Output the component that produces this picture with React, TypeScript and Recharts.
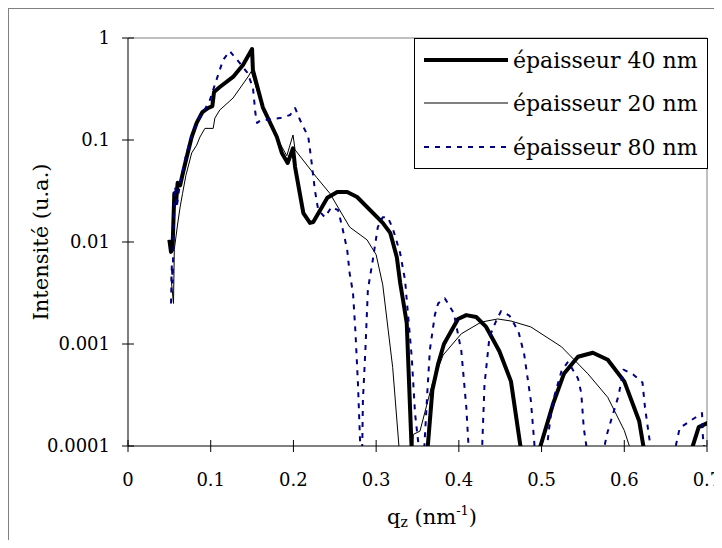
import React from "react";
import {Legend, Line, LineChart, ReferenceLine, XAxis, YAxis} from "recharts";

// q_z values (nm^-1) and intensities; 0.00004 = below the 1e-4 floor
const qz40 = [0.050, 0.052, 0.054, 0.056, 0.058, 0.060, 0.063, 0.067, 0.071, 0.077, 0.083, 0.090, 0.097, 0.102, 0.104,
  0.111, 0.127, 0.139, 0.150, 0.151, 0.163, 0.180, 0.186, 0.193, 0.1995, 0.202, 0.212, 0.220, 0.224, 0.241, 0.253,
  0.265, 0.277, 0.308, 0.317, 0.325, 0.329, 0.3325, 0.337, 0.343, 0.346, 0.359, 0.362, 0.368, 0.375, 0.382, 0.399,
  0.409, 0.421, 0.433, 0.449, 0.463, 0.475, 0.478, 0.494, 0.497, 0.514, 0.527, 0.544, 0.562, 0.580, 0.600, 0.618,
  0.624, 0.627, 0.678, 0.681, 0.690, 0.715];
const int40 = [0.0105, 0.008, 0.0095, 0.03, 0.024, 0.038, 0.036, 0.05, 0.068, 0.107, 0.147, 0.188, 0.206, 0.215, 0.296,
  0.331, 0.415, 0.543, 0.78, 0.486, 0.209, 0.107, 0.0746, 0.0595, 0.083, 0.0543, 0.0192, 0.0154, 0.0157, 0.0271, 0.0309,
  0.0309, 0.0276, 0.0154, 0.0123, 0.0071, 0.004, 0.0027, 0.0016, 0.00009, 0.00004, 0.00004, 0.00009, 0.000354, 0.00064,
  0.001, 0.00176, 0.00192, 0.00184, 0.00147, 0.00085, 0.00043, 0.000093, 0.00004, 0.00004, 0.00009, 0.00026, 0.00051,
  0.00075, 0.00082, 0.0007, 0.00043, 0.000176, 0.00009, 0.00004, 0.00004, 0.00009, 0.000153, 0.00019];

const qz20 = [0.052, 0.055, 0.056, 0.060, 0.063, 0.066, 0.070, 0.077, 0.083, 0.087, 0.093, 0.103, 0.105, 0.111, 0.127,
  0.145, 0.149, 0.163, 0.180, 0.192, 0.1995, 0.202, 0.228, 0.244, 0.268, 0.289, 0.300, 0.308, 0.320, 0.328, 0.331,
  0.342, 0.345, 0.353, 0.368, 0.381, 0.403, 0.427, 0.447, 0.463, 0.487, 0.524, 0.556, 0.580, 0.600, 0.608, 0.611,
  0.712, 0.720];
const int20 = [0.0045, 0.0025, 0.0085, 0.015, 0.022, 0.03, 0.045, 0.0746, 0.089, 0.107, 0.13, 0.13, 0.164, 0.197, 0.258,
  0.415, 0.47, 0.2, 0.105, 0.07, 0.112, 0.08, 0.043, 0.030, 0.014, 0.0105, 0.0075, 0.0038, 0.00059, 0.00009, 0.00004,
  0.00004, 0.00013, 0.00014, 0.00041, 0.00078, 0.00126, 0.00164, 0.00176, 0.00168, 0.00147, 0.00094, 0.00051, 0.0003,
  0.000142, 0.00009, 0.00004, 0.00004, 0.00009];

const qz80 = [0.052, 0.053, 0.054, 0.055, 0.057, 0.059, 0.061, 0.065, 0.070, 0.077, 0.085, 0.093, 0.099, 0.107, 0.115,
  0.123, 0.129, 0.135, 0.144, 0.151, 0.154, 0.156, 0.160, 0.184, 0.196, 0.202, 0.208, 0.218, 0.222, 0.226, 0.230,
  0.238, 0.246, 0.254, 0.259, 0.265, 0.268, 0.272, 0.275, 0.278, 0.281, 0.2825, 0.284, 0.287, 0.290, 0.296, 0.302,
  0.308, 0.314, 0.320, 0.329, 0.335, 0.337, 0.343, 0.347, 0.352, 0.355, 0.358, 0.362, 0.365, 0.371, 0.375, 0.383,
  0.394, 0.403, 0.409, 0.412, 0.415, 0.425, 0.428, 0.431, 0.437, 0.445, 0.451, 0.461, 0.472, 0.479, 0.487, 0.491,
  0.495, 0.503, 0.506, 0.510, 0.514, 0.524, 0.532, 0.544, 0.548, 0.551, 0.555, 0.558, 0.572, 0.575, 0.579, 0.585,
  0.593, 0.599, 0.611, 0.622, 0.625, 0.631, 0.634, 0.637, 0.658, 0.661, 0.667, 0.680, 0.694, 0.695, 0.697, 0.700];
const int80 = [0.0025, 0.006, 0.004, 0.012, 0.035, 0.022, 0.03, 0.045, 0.07, 0.11, 0.16, 0.2, 0.247, 0.39, 0.61,
  0.745, 0.65, 0.57, 0.46, 0.33, 0.184, 0.147, 0.155, 0.164, 0.176, 0.206, 0.157, 0.107, 0.06, 0.032, 0.0205,
  0.0175, 0.022, 0.0205, 0.014, 0.0084, 0.0049, 0.0032, 0.0013, 0.00041, 0.00009, 0.00004, 0.00028, 0.00087, 0.0034,
  0.0067, 0.014, 0.0175, 0.0175, 0.0137, 0.0078, 0.0042, 0.0027, 0.00075, 0.00021, 0.00009, 0.00004, 0.00009, 0.00035,
  0.00088, 0.00193, 0.0025, 0.0028, 0.002, 0.00085, 0.00024, 0.00009, 0.00004, 0.00004, 0.00009, 0.0004, 0.00117,
  0.00168, 0.0021, 0.0019, 0.00133, 0.00079, 0.00028, 0.000113, 0.00004, 0.00004, 0.00009, 0.00017, 0.00028, 0.00054,
  0.00067, 0.00046, 0.00033, 0.00015, 0.00009, 0.00004, 0.00004, 0.00009, 0.00013, 0.00019, 0.00031, 0.00056, 0.0005,
  0.00042, 0.00024, 0.000108, 0.00009, 0.00004, 0.00004, 0.00009, 0.00015, 0.000177, 0.00021, 0.000125, 0.00009,
  0.00004];

const xTicks = [0, 0.1, 0.2, 0.3, 0.4, 0.5, 0.6, 0.7];
const yTicks = [0.0001, 0.001, 0.01, 0.1, 1];
const legendNames = ["épaisseur 40 nm", "épaisseur 20 nm", "épaisseur 80 nm"];

const zip = (xs: number[], ys: number[]) => xs.map((x, i) => ({x, y: ys[i]}));

const FONT = "DejaVu Serif";
const W = 713;
const H = 531;
const LEFT = 119;
const TOP = 29;
const RIGHT = 698;
const BOTTOM = 437;

const series = [
  {name: legendNames[0], data: zip(qz40, int40), stroke: "#000000", width: 4, dash: undefined as string | undefined},
  {name: legendNames[1], data: zip(qz20, int20), stroke: "#000000", width: 1, dash: undefined},
  {name: legendNames[2], data: zip(qz80, int80), stroke: "#000080", width: 2, dash: "5 6"},
];

const XTick = (props: any) => {
  const {x, payload} = props;
  return <g>
    <line x1={x} x2={x} y1={BOTTOM - 6} y2={BOTTOM + 6} stroke="#000"/>
    <text x={x} y={BOTTOM + 40} textAnchor="middle" fontFamily={FONT} fontSize={18} fill="#000">
      {String(payload.value)}
    </text>
  </g>;
};

const YTick = (props: any) => {
  const {y, payload} = props;
  return <g>
    <line x1={LEFT - 6} x2={LEFT + 6} y1={y} y2={y} stroke="#000"/>
    <text x={LEFT - 18} y={y} dy="0.35em" textAnchor="end" fontFamily={FONT} fontSize={18} fill="#000">
      {String(payload.value)}
    </text>
  </g>;
};

const renderYLabel = () => (
  <text x={32} y={(TOP + BOTTOM) / 2} transform={`rotate(-90, 32, ${(TOP + BOTTOM) / 2})`} textAnchor="middle"
        dominantBaseline="central" fontFamily={FONT} fontSize={21} fill="#000">
    Intensité (u.a.)
  </text>
);

const renderXLabel = () => (
  <text x={423} y={515} textAnchor="middle" fontFamily={FONT} fontSize={21} fill="#000">
    q<tspan fontSize={14} dy={3}>z</tspan><tspan dy={-3}> (nm</tspan>
    <tspan fontSize={13} dy={-9}>-1</tspan><tspan dy={9}>)</tspan>
  </text>
);

const rows = [22, 65, 109];
const renderLegend = () => (
  <svg width={294} height={131} style={{display: "block"}}>
    <rect x={0.5} y={0.5} width={293} height={130} fill="#fff" stroke="#000"/>
    {series.map((s, i) => (
      <g key={s.name}>
        <line x1={10} x2={94} y1={rows[i]} y2={rows[i]} stroke={s.stroke} strokeWidth={s.width}
              strokeDasharray={s.dash}/>
        <text x={99} y={rows[i]} dy="0.35em" fontFamily={FONT} fontSize={22} fill="#000">{s.name}</text>
      </g>
    ))}
  </svg>
);

export default function App() {
  return (
    <div style={{
      width: 714, height: 532, boxSizing: "border-box", borderTop: "1px solid #808080",
      borderLeft: "1px solid #808080", background: "#fff"
    }}>
      <LineChart width={W} height={H} margin={{top: TOP, right: W - RIGHT, left: 19, bottom: 34}}>
        <XAxis dataKey="x" type="number" domain={[0, 0.7]} ticks={xTicks} interval={0} allowDataOverflow
               height={60} tick={<XTick/>} tickLine={false} axisLine={{stroke: "#000"}} label={renderXLabel}/>
        <YAxis type="number" scale="log" domain={[0.0001, 1]} ticks={yTicks} interval={0} allowDataOverflow
               width={100} tick={<YTick/>} tickLine={false} axisLine={{stroke: "#000"}} label={renderYLabel}/>
        <ReferenceLine y={1} stroke="#808080"/>
        <ReferenceLine x={0.7} stroke="#808080"/>
        {series.map(s => (
          <Line key={s.name} data={s.data} dataKey="y" name={s.name} type="linear" stroke={s.stroke}
                strokeWidth={s.width} strokeDasharray={s.dash} dot={false} activeDot={false}
                isAnimationActive={false} strokeLinejoin="round"/>
        ))}
        <Legend layout="vertical" align="center" verticalAlign="middle" content={renderLegend}
                wrapperStyle={{position: "absolute", left: 405, top: 29, width: 294, height: 131}}/>
      </LineChart>
    </div>
  );
}
